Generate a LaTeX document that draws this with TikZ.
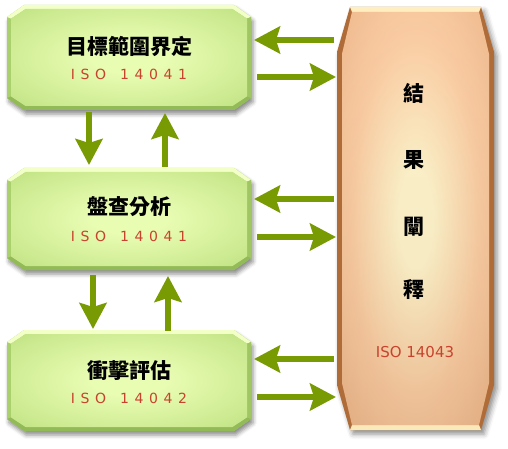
\documentclass[tikz,border=0pt]{standalone}
\usepackage{fontspec}
\newfontfamily\cjk{Noto Sans CJK TC}
\newfontfamily\isofont{DejaVu Sans}
\usetikzlibrary{arrows.meta,shadows.blur,calc}
\definecolor{agreen}{HTML}{789A02}
\definecolor{isored}{HTML}{C8432E}
\definecolor{gleft}{HTML}{A9D06C}
\definecolor{gtop}{HTML}{F2FFC6}
\definecolor{gbot}{HTML}{92BA56}
\definecolor{gright}{HTML}{A0C664}
\definecolor{gin}{HTML}{E8FCB2}
\definecolor{gmid}{HTML}{CAE98E}
\definecolor{gout}{HTML}{A6CB68}
\definecolor{bside}{HTML}{B06C38}
\definecolor{bcream}{HTML}{FFEFC0}
\definecolor{bin}{HTML}{FFF1C0}
\definecolor{bmid}{HTML}{FAC290}
\definecolor{bout}{HTML}{E5A06A}
\definecolor{bcorner}{HTML}{D6925C}
\pgfdeclareradialshading{gshade}{\pgfpoint{0bp}{0bp}}{color(0bp)=(gin); color(8bp)=(gin); color(30bp)=(gmid); color(50bp)=(gout); color(75bp)=(gout!90!black)}
\pgfdeclareradialshading{bshade}{\pgfpoint{0bp}{0bp}}{color(0bp)=(bin); color(6bp)=(bin); color(22bp)=(bmid); color(42bp)=(bout); color(75bp)=(bcorner)}
\newcommand\octpts[4]{%
 \coordinate (#1-o1) at ($(#1.north west)+(#2,0)$);
 \coordinate (#1-o2) at ($(#1.north east)+(-#2,0)$);
 \coordinate (#1-o3) at ($(#1.north east)+(0,#3)$);
 \coordinate (#1-o4) at ($(#1.south east)+(0,-#3)$);
 \coordinate (#1-o5) at ($(#1.south east)+(-#2,0)$);
 \coordinate (#1-o6) at ($(#1.south west)+(#2,0)$);
 \coordinate (#1-o7) at ($(#1.south west)+(0,-#3)$);
 \coordinate (#1-o8) at ($(#1.north west)+(0,#3)$);
 \coordinate (#1-i1) at ($(#1.north west)+(#2+0.4*#4,#4)$);
 \coordinate (#1-i2) at ($(#1.north east)+(-#2-0.4*#4,#4)$);
 \coordinate (#1-i3) at ($(#1.north east)+(-#4,#3+0.4*#4)$);
 \coordinate (#1-i4) at ($(#1.south east)+(-#4,-#3-0.4*#4)$);
 \coordinate (#1-i5) at ($(#1.south east)+(-#2-0.4*#4,-#4)$);
 \coordinate (#1-i6) at ($(#1.south west)+(#2+0.4*#4,-#4)$);
 \coordinate (#1-i7) at ($(#1.south west)+(#4,-#3-0.4*#4)$);
 \coordinate (#1-i8) at ($(#1.north west)+(#4,#3+0.4*#4)$);
}
\newcommand\greenbox[1]{%
 \octpts{#1}{17}{12}{4}
 \fill[gleft, blur shadow={shadow xshift=2pt,shadow yshift=-4pt,shadow blur radius=4pt,shadow opacity=45}]
   (#1-o1)--(#1-o2)--(#1-o3)--(#1-o4)--(#1-o5)--(#1-o6)--(#1-o7)--(#1-o8)--cycle;
 \fill[gtop] (#1-o8)--(#1-o1)--(#1-o2)--(#1-o3)--(#1-i3)--(#1-i2)--(#1-i1)--(#1-i8)--cycle;
 \fill[gright] (#1-o3)--(#1-o4)--(#1-i4)--(#1-i3)--cycle;
 \fill[gbot] (#1-o4)--(#1-o5)--(#1-o6)--(#1-o7)--(#1-i7)--(#1-i6)--(#1-i5)--(#1-i4)--cycle;
 \shade[shading=gshade]
   (#1-i1)--(#1-i2)--(#1-i3)--(#1-i4)--(#1-i5)--(#1-i6)--(#1-i7)--(#1-i8)--cycle;
}
\tikzset{
  boxnode/.style={inner sep=0pt, outer sep=0pt},
  cjktext/.style={font=\cjk\fontsize{21}{24}\selectfont\bfseries, text=black},
  isospaced/.style={font=\isofont\fontsize{14}{16}\selectfont\addfontfeature{LetterSpace=40}, text=isored},
  isoplain/.style={font=\isofont\fontsize{15}{17}\selectfont, text=isored},
  arr/.style={draw=agreen, line width=6.5pt, -{Stealth[length=26pt,width=27pt,inset=4pt]}}
}
\begin{document}
\begin{tikzpicture}[x=1pt,y=-1pt]
\useasboundingbox (0,0) rectangle (508,449);
% box nodes
\node[boxnode, minimum width=244pt, minimum height=105pt] (b1) at (129,57.5) {};
\node[boxnode, minimum width=244pt, minimum height=102pt] (b2) at (129,219) {};
\node[boxnode, minimum width=244pt, minimum height=101pt] (b3) at (129,380.5) {};
\node[boxnode, minimum width=157pt, minimum height=423pt] (r) at (415.5,218.5) {};
% right tall box
\octpts{r}{13}{45}{5}
\fill[bside, blur shadow={shadow xshift=3pt,shadow yshift=-4pt,shadow blur radius=5pt,shadow opacity=45}]
  (r-o1)--(r-o2)--(r-o3)--(r-o4)--(r-o5)--(r-o6)--(r-o7)--(r-o8)--cycle;
\fill[bcream] (r-o1)--(r-o2)--(r-i2)--(r-i1)--cycle;
\fill[bcream!95!brown] (r-o5)--(r-o6)--(r-i6)--(r-i5)--cycle;
\shade[shading=bshade]
  (r-i1)--(r-i2)--(r-i3)--(r-i4)--(r-i5)--(r-i6)--(r-i7)--(r-i8)--cycle;
\shade[top color=white, bottom color=gray!60, opacity=0.18]
  (r-i1)--(r-i2)--(r-i3)--(r-i4)--(r-i5)--(r-i6)--(r-i7)--(r-i8)--cycle;
% green boxes
\greenbox{b1}
\greenbox{b2}
\greenbox{b3}
% texts
\node[cjktext] (t1) at ($(b1.center)+(0,-11)$) {目標範圍界定};
\node[isospaced] (i1) at ($(b1.center)+(0,16.5)$) {ISO\hspace{14pt}14041};
\node[cjktext] (t2) at ($(b2.center)+(0,-12)$) {盤查分析};
\node[isospaced] (i2) at ($(b2.center)+(0,17)$) {ISO\hspace{14pt}14041};
\node[cjktext] (t3) at ($(b3.center)+(0,-10.5)$) {衝擊評估};
\node[isospaced] (i3) at ($(b3.center)+(0,17.5)$) {ISO\hspace{14pt}14042};
\node[cjktext] (r1) at (414,93) {結};
\node[cjktext] (r2) at (414,160) {果};
\node[cjktext] (r3) at (414,227) {闡};
\node[cjktext] (r4) at (414,290) {釋};
\node[isoplain] (r5) at (415,352) {ISO 14043};
% vertical arrows
\draw[arr] ([shift={(-40,2)}]b1.south) -- ([shift={(-40,-3)}]b2.north);
\draw[arr] ([shift={(36,-1)}]b2.north) -- ([shift={(36,3)}]b1.south);
\draw[arr] ([shift={(-36,5)}]b2.south) -- ([shift={(-36,-1)}]b3.north);
\draw[arr] ([shift={(39,1)}]b3.north) -- ([shift={(39,6)}]b2.south);
% horizontal arrows
\coordinate (e1) at (r.west |- b1.east);
\coordinate (e2) at (r.west |- b2.east);
\coordinate (e3) at (r.west |- b3.east);
\draw[arr] ([shift={(-3,-17.5)}]e1) -- ([shift={(3,-17.5)}]b1.east);
\draw[arr] ([shift={(6,19.5)}]b1.east) -- ([shift={(-1,19.5)}]e1);
\draw[arr] ([shift={(-3,-20)}]e2) -- ([shift={(3,-20)}]b2.east);
\draw[arr] ([shift={(6,18)}]b2.east) -- ([shift={(-1,18)}]e2);
\draw[arr] ([shift={(-3,-21.5)}]e3) -- ([shift={(3,-21.5)}]b3.east);
\draw[arr] ([shift={(6,16.5)}]b3.east) -- ([shift={(-1,16.5)}]e3);
\end{tikzpicture}
\end{document}
